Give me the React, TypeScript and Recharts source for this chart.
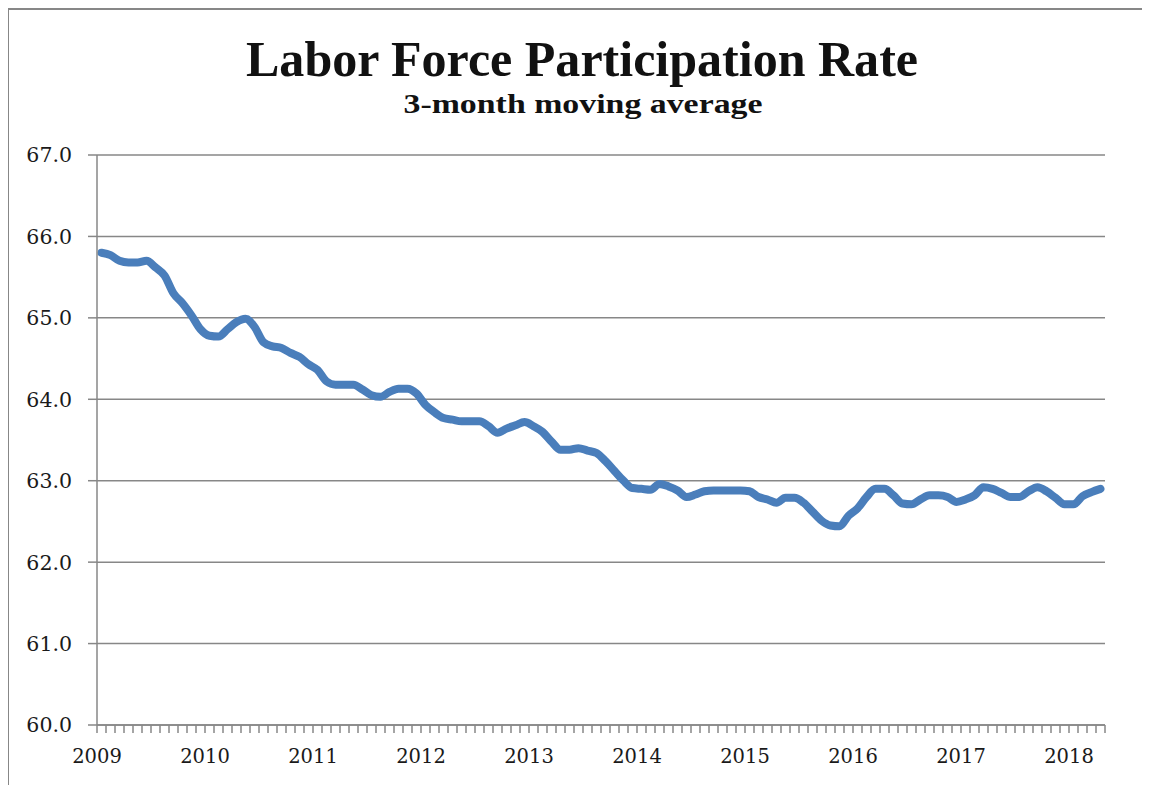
import { LineChart, Line, XAxis, YAxis, CartesianGrid } from "recharts";

// monthly, Jan 2009 .. Apr 2018 (3-month moving average)
const rates = [
  65.8, 65.77, 65.7, 65.68, 65.68, 65.7, 65.62, 65.52, 65.3, 65.18, 65.03, 64.86,
  64.78, 64.77, 64.86, 64.95, 64.99, 64.89, 64.7, 64.65, 64.63, 64.57, 64.52, 64.43,
  64.36, 64.22, 64.18, 64.18, 64.18, 64.12, 64.05, 64.03, 64.09, 64.13, 64.13, 64.07,
  63.93, 63.84, 63.77, 63.75, 63.73, 63.73, 63.73, 63.67, 63.59, 63.64, 63.68, 63.72,
  63.67, 63.6, 63.48, 63.38, 63.38, 63.4, 63.37, 63.34, 63.24, 63.12, 63.0, 62.91,
  62.9, 62.89, 62.96, 62.93, 62.88, 62.8, 62.83, 62.87, 62.88, 62.88, 62.88, 62.88,
  62.87, 62.8, 62.77, 62.73, 62.79, 62.79, 62.73, 62.62, 62.51, 62.45, 62.44, 62.57,
  62.66, 62.8, 62.9, 62.9, 62.82, 62.72, 62.71, 62.77, 62.82, 62.82, 62.8, 62.74,
  62.77, 62.82, 62.92, 62.9, 62.85, 62.8, 62.8, 62.87, 62.92, 62.87, 62.79, 62.71,
  62.71, 62.81, 62.86, 62.9,
];
const years = [2009, 2010, 2011, 2012, 2013, 2014, 2015, 2016, 2017, 2018];
const yTicks = [60, 61, 62, 63, 64, 65, 66, 67];

// month index, centred inside its monthly slot
const data = rates.map((v, i) => ({ m: i + 0.5, rate: v }));
const monthTicks = Array.from({ length: rates.length + 1 }, (_, i) => i);

const GRAY = "#878787";
const FONT = "'DejaVu Serif', serif";
const W = 1141;
const H = 775;

const XTick = (props: any) => {
  const { x, y, payload } = props;
  const v = payload.value;
  if (v % 12 !== 0) return <g />;
  const yr = years[v / 12];
  if (yr === undefined) return <g />;
  return (
    <text x={x} y={y} dy="0.71em" textAnchor="middle" fontFamily={FONT} fontSize={19.5} fill="#1a1a1a">
      {yr}
    </text>
  );
};

const YTick = (props: any) => {
  const { x, y, payload } = props;
  return (
    <text x={x} y={y} dy="0.36em" textAnchor="end" fontFamily={FONT} fontSize={20.5} fill="#1a1a1a">
      {payload.value.toFixed(1)}
    </text>
  );
};

export default function App() {
  return (
    <div
      style={{
        position: "relative",
        width: W,
        height: H,
        marginLeft: -1,
        borderLeft: `2px solid ${GRAY}`,
        borderTop: `2px solid ${GRAY}`,
        background: "#fff",
        overflow: "hidden",
      }}
    >
      <svg width={W} height={H} style={{ position: "absolute", left: 0, top: 0, pointerEvents: "none" }}>
        <text
          x={573}
          y={66}
          textAnchor="middle"
          fontFamily="'Liberation Serif', serif"
          fontWeight="bold"
          fontSize={50}
          textLength={672}
          lengthAdjust="spacingAndGlyphs"
          fill="#111"
        >
          Labor Force Participation Rate
        </text>
        <text
          x={574}
          y={103}
          textAnchor="middle"
          fontFamily="'Liberation Serif', serif"
          fontWeight="bold"
          fontSize={28}
          textLength={359}
          lengthAdjust="spacingAndGlyphs"
          fill="#111"
        >
          3-month moving average
        </text>
      </svg>
      <LineChart
        width={W}
        height={H}
        data={data}
        margin={{ top: 145, right: 45, left: 0, bottom: 20 }}
      >
        <CartesianGrid vertical={false} stroke={GRAY} strokeWidth={1.5} />
        <XAxis
          type="number"
          dataKey="m"
          domain={[0, rates.length]}
          ticks={monthTicks}
          interval={0}
          tick={<XTick />}
          tickSize={8}
          tickMargin={16}
          height={40}
          stroke={GRAY}
          strokeWidth={1.5}
          tickLine={{ stroke: GRAY, strokeWidth: 1.5 }}
        />
        <YAxis
          domain={[60, 67]}
          ticks={yTicks}
          interval={0}
          width={88}
          tick={<YTick />}
          tickSize={9}
          tickMargin={16}
          stroke={GRAY}
          strokeWidth={1.5}
          tickLine={{ stroke: GRAY, strokeWidth: 1.5 }}
        />
        <Line
          type="monotone"
          dataKey="rate"
          stroke="#4A7EBB"
          strokeWidth={8}
          strokeLinejoin="round"
          strokeLinecap="round"
          dot={false}
          isAnimationActive={false}
        />
      </LineChart>
    </div>
  );
}
